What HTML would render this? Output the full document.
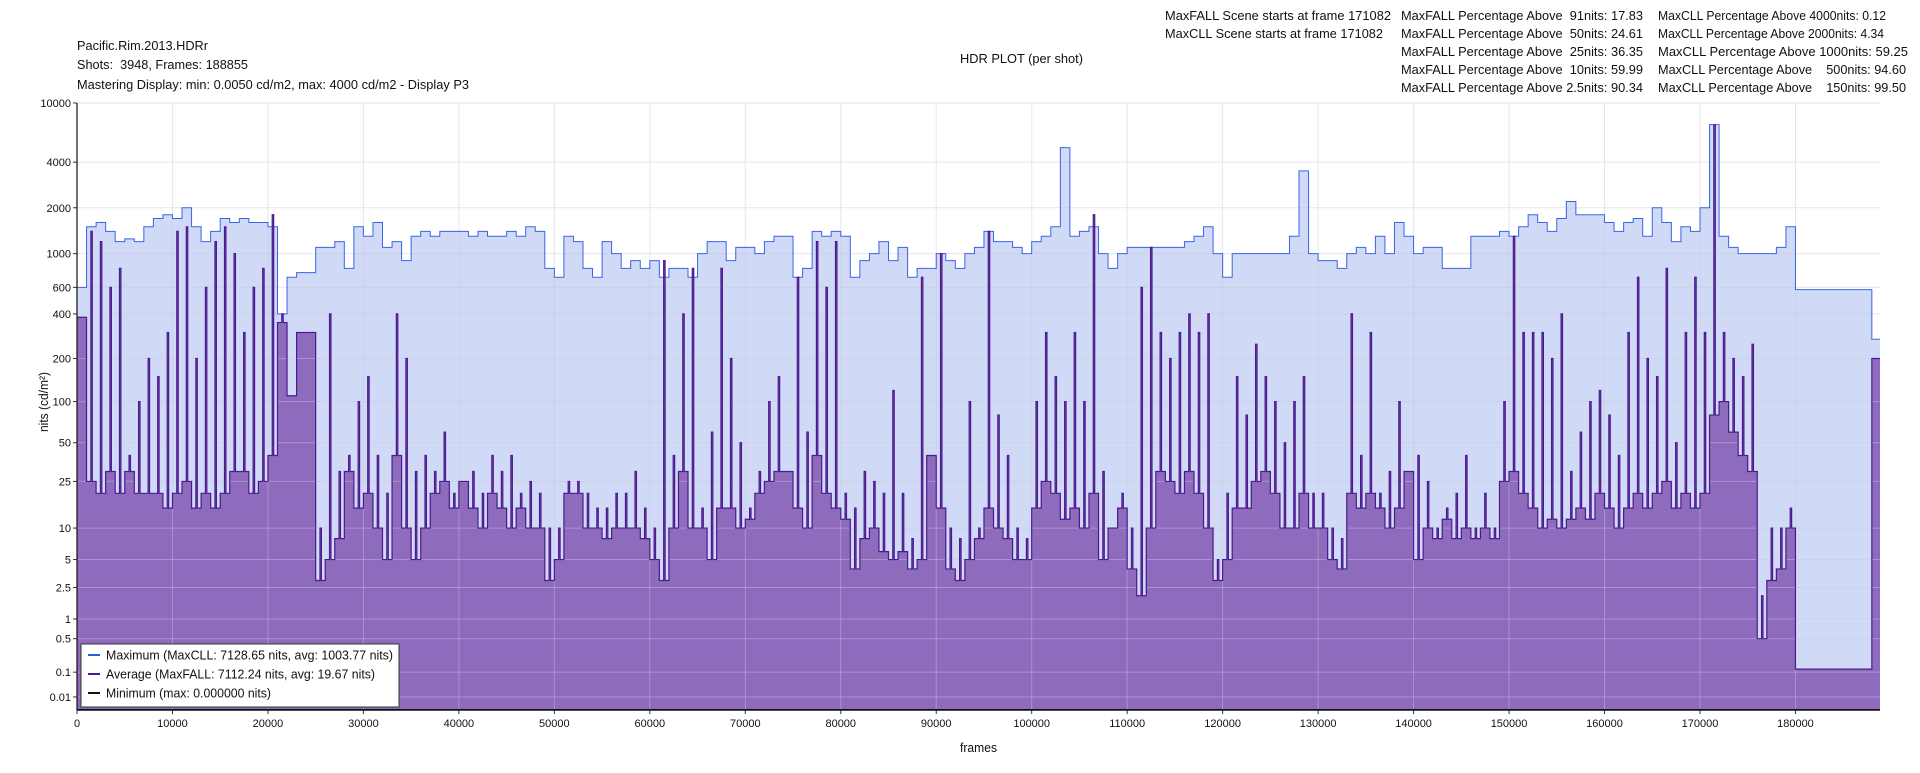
<!DOCTYPE html>
<html><head><meta charset="utf-8"><title>HDR PLOT (per shot)</title>
<style>
html,body{margin:0;padding:0;background:#fff;}
body{width:1920px;height:768px;overflow:hidden;font-family:"Liberation Sans",Arial,sans-serif;}
svg text{font-family:"Liberation Sans",Arial,sans-serif;fill:#111;}
</style></head>
<body>
<svg id="chart" width="1920" height="768" viewBox="0 0 1920 768" xmlns="http://www.w3.org/2000/svg">
  <g font-size="13">
    <text x="77" y="50" textLength="131" lengthAdjust="spacingAndGlyphs">Pacific.Rim.2013.HDRr</text>
    <text x="77" y="69" textLength="171" lengthAdjust="spacingAndGlyphs" xml:space="preserve">Shots:  3948, Frames: 188855</text>
    <text x="77" y="89" textLength="392" lengthAdjust="spacingAndGlyphs">Mastering Display: min: 0.0050 cd/m2, max: 4000 cd/m2 - Display P3</text>
  </g>
  <text x="960" y="63" textLength="123" lengthAdjust="spacingAndGlyphs" font-size="12.5">HDR PLOT (per shot)</text>
  <g font-size="13">
    <text x="1165" y="20" textLength="226" lengthAdjust="spacingAndGlyphs">MaxFALL Scene starts at frame 171082</text>
    <text x="1165" y="38" textLength="218" lengthAdjust="spacingAndGlyphs">MaxCLL Scene starts at frame 171082</text>
    <text x="1401" y="20" textLength="242" lengthAdjust="spacingAndGlyphs" xml:space="preserve">MaxFALL Percentage Above  91nits: 17.83</text>
    <text x="1401" y="38" textLength="242" lengthAdjust="spacingAndGlyphs" xml:space="preserve">MaxFALL Percentage Above  50nits: 24.61</text>
    <text x="1401" y="56" textLength="242" lengthAdjust="spacingAndGlyphs" xml:space="preserve">MaxFALL Percentage Above  25nits: 36.35</text>
    <text x="1401" y="74" textLength="242" lengthAdjust="spacingAndGlyphs" xml:space="preserve">MaxFALL Percentage Above  10nits: 59.99</text>
    <text x="1401" y="92" textLength="242" lengthAdjust="spacingAndGlyphs" xml:space="preserve">MaxFALL Percentage Above 2.5nits: 90.34</text>
    <text x="1658" y="20" textLength="228" lengthAdjust="spacingAndGlyphs" xml:space="preserve">MaxCLL Percentage Above 4000nits: 0.12</text>
    <text x="1658" y="38" textLength="226" lengthAdjust="spacingAndGlyphs" xml:space="preserve">MaxCLL Percentage Above 2000nits: 4.34</text>
    <text x="1658" y="56" textLength="250" lengthAdjust="spacingAndGlyphs" xml:space="preserve">MaxCLL Percentage Above 1000nits: 59.25</text>
    <text x="1658" y="74" textLength="248" lengthAdjust="spacingAndGlyphs" xml:space="preserve">MaxCLL Percentage Above    500nits: 94.60</text>
    <text x="1658" y="92" textLength="248" lengthAdjust="spacingAndGlyphs" xml:space="preserve">MaxCLL Percentage Above    150nits: 99.50</text>
  </g>
  <g id="plot"></g>
  <g id="axes"></g>
  <text x="960" y="752" textLength="37" lengthAdjust="spacingAndGlyphs" font-size="12.5">frames</text>
  <text transform="translate(48,432) rotate(-90)" textLength="60" lengthAdjust="spacingAndGlyphs" font-size="12.5">nits (cd/m²)</text>
  <g>
    <rect x="81" y="644" width="318" height="63" fill="#fff" stroke="#333" stroke-width="1"/>
    <line x1="88" y1="655" x2="100" y2="655" stroke="#2a5ce8" stroke-width="2"/>
    <text x="106" y="659.5" font-size="12.5" textLength="287" lengthAdjust="spacingAndGlyphs">Maximum (MaxCLL: 7128.65 nits, avg: 1003.77 nits)</text>
    <line x1="88" y1="674" x2="100" y2="674" stroke="#4b1a8f" stroke-width="2"/>
    <text x="106" y="678.5" font-size="12.5" textLength="269" lengthAdjust="spacingAndGlyphs">Average (MaxFALL: 7112.24 nits, avg: 19.67 nits)</text>
    <line x1="88" y1="693" x2="100" y2="693" stroke="#111" stroke-width="2"/>
    <text x="106" y="697.5" font-size="12.5" textLength="165" lengthAdjust="spacingAndGlyphs">Minimum (max: 0.000000 nits)</text>
  </g>
</svg>
<script>
// bins of 1000 frames
const binSize = 1000;
const totalFrames = 188855;
const maxCLL = [600,1500,1600,1400,1200,1250,1200,1500,1700,1800,1700,2000,1500,1200,1400,1700,1600,1700,1600,1600,
1500,400,700,750,750,1100,1100,1200,800,1500,1300,1600,1100,1200,900,1300,1400,1300,1400,1400,
1400,1300,1400,1300,1300,1400,1300,1500,1400,800,700,1300,1200,800,700,1200,1000,800,900,800,
900,700,800,800,700,1000,1200,1200,900,1100,1100,1000,1200,1300,1300,700,800,1400,1300,1400,
1300,700,900,1000,1200,900,1100,700,800,800,1000,900,800,1000,1100,1400,1200,1200,1100,1000,
1200,1300,1500,5000,1300,1400,1500,1000,800,1000,1100,1100,1100,1100,1100,1100,1200,1300,1500,1000,
700,1000,1000,1000,1000,1000,1000,1300,3500,1000,900,900,800,1000,1100,1000,1300,1000,1600,1300,
1000,1100,1100,800,800,800,1300,1300,1300,1400,1300,1500,1800,1600,1400,1700,2200,1800,1800,1800,
1600,1400,1600,1700,1300,2000,1600,1200,1500,1400,2000,7128,1300,1100,1000,1000,1000,1000,1100,1500,
580,580,580,580,580,580,580,580,270];
const avgBase = [380,25,20,30,20,30,20,20,20,15,20,25,15,20,15,20,30,30,20,25,
40,350,110,300,300,3,5,8,30,15,20,10,5,40,10,5,10,20,25,15,
25,15,10,20,15,10,15,10,10,3,5,20,20,10,10,8,10,10,10,8,
5,3,10,30,10,10,5,15,15,10,12,20,25,30,30,15,10,40,20,15,
12,4,8,10,6,5,6,4,5,40,15,4,3,5,8,15,10,8,5,5,
15,25,20,12,15,10,20,5,10,15,4,2,10,30,25,20,30,20,10,3,
5,15,15,25,30,20,10,10,20,10,10,5,4,20,15,20,15,10,15,30,
5,10,8,12,8,10,8,10,8,25,30,20,15,10,12,10,12,15,12,20,
15,10,15,20,15,20,25,15,20,15,20,80,100,60,40,30,0.5,3,4,10,
0.12,0.12,0.12,0.12,0.12,0.12,0.12,0.12,200];
const avgPeak = [380,1400,1200,600,800,40,100,200,150,300,1400,1500,200,600,1200,1500,1000,300,600,800,
1800,400,110,300,300,10,400,30,40,100,150,40,20,400,200,30,40,30,60,20,
25,30,20,40,30,40,20,25,20,10,10,25,25,20,15,15,20,20,30,15,
10,900,40,400,800,15,60,800,200,50,15,30,100,150,30,700,60,1200,600,1200,
20,15,30,25,20,120,20,8,700,40,1000,10,8,100,10,1400,80,40,10,8,
100,300,150,100,300,100,1800,30,10,20,10,600,1100,300,200,300,400,300,400,5,
20,150,80,250,150,100,50,100,150,20,20,10,8,400,40,300,20,30,100,30,
40,25,10,15,20,40,10,20,10,100,1300,300,300,300,200,400,30,60,100,120,
80,40,300,700,200,150,800,50,300,700,300,7112,300,200,150,250,2,10,10,15,
0.12,0.12,0.12,0.12,0.12,0.12,0.12,0.12,200];
const xTicks = [0,10000,20000,30000,40000,50000,60000,70000,80000,90000,100000,110000,120000,130000,140000,150000,160000,170000,180000];
const yTicks = [0.01,0.1,0.5,1,2.5,5,10,25,50,100,200,400,600,1000,2000,4000,10000];
const yTickLabels = ["0.01","0.1","0.5","1","2.5","5","10","25","50","100","200","400","600","1000","2000","4000","10000"];

const X0 = 77, X1 = 1880, YTOP = 103, YBOT = 710;
function xScale(f){ return X0 + f/totalFrames*(X1-X0); }
function pq(L){
  const m1=0.1593017578125,m2=78.84375,c1=0.8359375,c2=18.8515625,c3=18.6875;
  const Y=Math.max(L,0)/10000, p=Math.pow(Y,m1);
  return Math.pow((c1+c2*p)/(1+c3*p),m2);
}
function yScale(v){ return YBOT - pq(v)*(YBOT-YTOP); }

const NS='http://www.w3.org/2000/svg';
const plot=document.getElementById('plot');
const axes=document.getElementById('axes');
function mk(tag,attrs,parent){const e=document.createElementNS(NS,tag);for(const k in attrs)e.setAttribute(k,attrs[k]);parent.appendChild(e);return e;}

let maxLine='', maxFill='M'+xScale(0)+','+YBOT;
maxCLL.forEach((v,i)=>{
  const a=xScale(i*binSize), b=xScale(Math.min((i+1)*binSize,totalFrames)), y=yScale(v);
  maxLine+=(i===0?'M':'L')+a+','+y+'L'+b+','+y;
  maxFill+='L'+a+','+y+'L'+b+','+y;
});
maxFill+='L'+xScale(totalFrames)+','+YBOT+'Z';

let avgLine='', avgFill='M'+xScale(0)+','+YBOT;
avgBase.forEach((v,i)=>{
  const s=i*binSize, e=Math.min((i+1)*binSize,totalFrames);
  const pts=[[s,v],[s+binSize*0.45,avgPeak[i]],[s+binSize*0.6,v]];
  pts.forEach((p,j)=>{
    const a=xScale(p[0]), b=xScale(j<2?Math.min(pts[j+1][0],e):e), y=yScale(p[1]);
    avgLine+=((i===0&&j===0)?'M':'L')+a+','+y+'L'+b+','+y;
    avgFill+='L'+a+','+y+'L'+b+','+y;
  });
});
avgFill+='L'+xScale(totalFrames)+','+YBOT+'Z';

let p;
p=mk('path',{d:maxFill,fill:'#d0daf6',stroke:'none'},plot);


p=mk('path',{d:avgFill,fill:'#8e6bbd',stroke:'none'},plot);



yTicks.forEach((t,i)=>{
  const y=yScale(t);
  const g=mk('line',{x1:X0,x2:X1,y1:y,y2:y,stroke:'#c8c8d8','stroke-opacity':0.45,'stroke-width':1},plot);
  
  
  const tk=mk('line',{x1:X0-4,x2:X0,y1:y,y2:y,stroke:'#333','stroke-width':1},axes);
  
  
  const tx=mk('text',{x:X0-6,y:y+4,'text-anchor':'end','font-size':'11'},axes);
  tx.textContent=yTickLabels[i];
  
  
});
xTicks.forEach(t=>{
  const x=xScale(t);
  const g=mk('line',{x1:x,x2:x,y1:YTOP,y2:YBOT,stroke:'#c8c8d8','stroke-opacity':0.45,'stroke-width':1},plot);
  
  
  const tk=mk('line',{x1:x,x2:x,y1:YBOT,y2:YBOT+4,stroke:'#333','stroke-width':1},axes);
  
  
  const tx=mk('text',{x:x,y:YBOT+17,'text-anchor':'middle','font-size':'11'},axes);
  tx.textContent=String(t);
  
  
});

p=mk('path',{d:maxLine,fill:'none',stroke:'#3a64e6','stroke-width':1},plot);


p=mk('path',{d:avgLine,fill:'none',stroke:'#4b1a8f','stroke-width':1.2},plot);


p=mk('line',{x1:X0,x2:X1,y1:YBOT-0.5,y2:YBOT-0.5,stroke:'#111','stroke-width':1},plot);



p=mk('line',{x1:X0,x2:X0,y1:YTOP,y2:YBOT,stroke:'#111','stroke-width':1.2},axes);


p=mk('line',{x1:X0,x2:X1,y1:YBOT,y2:YBOT,stroke:'#111','stroke-width':1.5},axes);


</script>
</body></html>
